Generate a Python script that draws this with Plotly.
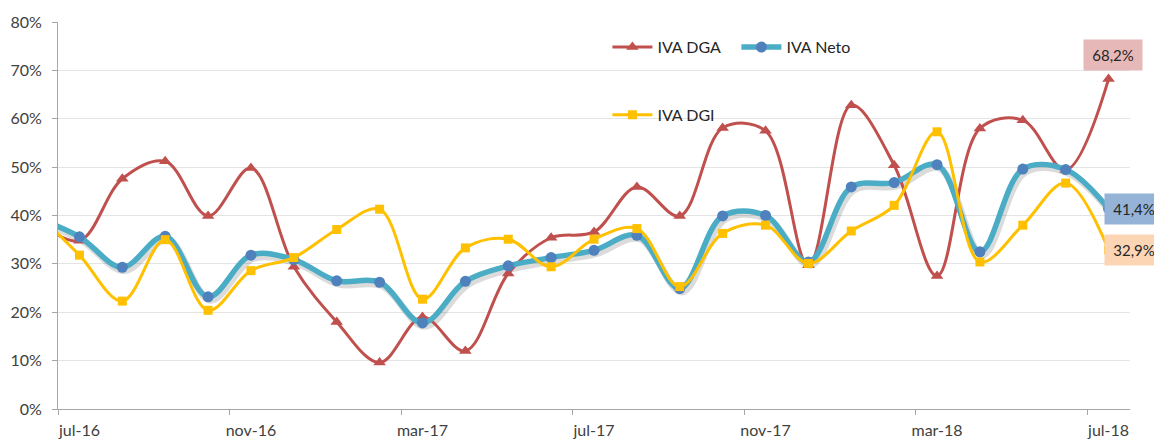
import plotly.graph_objects as go

months = ["jun-16", "jul-16", "ago-16", "sep-16", "oct-16", "nov-16", "dic-16",
          "ene-17", "feb-17", "mar-17", "abr-17", "may-17", "jun-17", "jul-17",
          "ago-17", "sep-17", "oct-17", "nov-17", "dic-17", "ene-18", "feb-18",
          "mar-18", "abr-18", "may-18", "jun-18", "jul-18"]

iva_dga = [39.0, 34.8, 47.6, 51.2, 39.9, 49.8, 29.4, 18.0, 9.6, 19.0, 12.0, 28.0,
           35.4, 36.6, 45.9, 39.9, 58.1, 57.5, 29.7, 62.8, 50.4, 27.5, 58.0, 59.7,
           49.4, 68.2]
iva_neto = [39.5, 35.6, 29.3, 35.7, 23.2, 31.8, 30.9, 26.5, 26.2, 17.8, 26.4, 29.6,
            31.3, 32.8, 35.9, 24.9, 39.9, 40.0, 30.4, 45.9, 46.8, 50.5, 32.5, 49.6,
            49.5, 41.4]
iva_dgi = [40.5, 31.8, 22.3, 35.0, 20.4, 28.6, 31.3, 37.1, 41.3, 22.7, 33.3, 35.1,
           29.4, 35.1, 37.3, 25.3, 36.3, 38.0, 30.1, 36.8, 42.1, 57.3, 30.4, 38.0,
           46.7, 32.9]

last_labels = ["68,2%", "41,4%", "32,9%"]

FONT = "Lato, 'Open Sans', sans-serif"
X_RANGE = [0.5, len(months) - 0.5]
Y_RANGE = [0, 80]

fig = go.Figure()

# soft shadow under the IVA Neto line (drawn on hidden, slightly offset axes)
fig.add_trace(go.Scatter(
    x=months, y=iva_neto, mode="lines", showlegend=False, hoverinfo="skip",
    line=dict(color="rgba(0,0,0,0.14)", width=7, shape="spline", smoothing=1),
    xaxis="x", yaxis="y"))

fig.add_trace(go.Scatter(
    x=months, y=iva_dga, name="IVA DGA", mode="lines+markers",
    line=dict(color="#C0504D", width=3, shape="spline", smoothing=1),
    marker=dict(symbol="triangle-up", size=11, color="#C0504D"),
    legend="legend", xaxis="x2", yaxis="y2"))
fig.add_trace(go.Scatter(
    x=months, y=iva_neto, name="IVA Neto", mode="lines+markers",
    line=dict(color="#4BACC6", width=5.5, shape="spline", smoothing=1),
    marker=dict(symbol="circle", size=11, color="#4F81BD"),
    legend="legend", xaxis="x2", yaxis="y2"))
fig.add_trace(go.Scatter(
    x=months, y=iva_dgi, name="IVA DGI", mode="lines+markers",
    line=dict(color="#FFC000", width=3, shape="spline", smoothing=1),
    marker=dict(symbol="square", size=9, color="#FFC000"),
    legend="legend2", xaxis="x2", yaxis="y2"))

box_styles = [("#E6B9B8", iva_dga[-1], 4, 24),
              ("#95B3D7", iva_neto[-1], 25, 0),
              ("#FCD5B5", iva_dgi[-1], 25, 0)]
for text, (bg, yv, xs, ys) in zip(last_labels, box_styles):
    fig.add_annotation(x=months[-1], y=yv, xref="x2", yref="y2", text=text,
                       showarrow=False, xshift=xs, yshift=ys,
                       bgcolor=bg, width=52, height=24, borderpad=3,
                       font=dict(family=FONT, size=15, color="#262626"))

fig.update_layout(
    width=1154, height=432,
    margin=dict(l=50, r=32, t=14, b=31, autoexpand=False),
    paper_bgcolor="white", plot_bgcolor="white",
    font=dict(family=FONT, size=16, color="#404040"),
    legend=dict(orientation="h", x=0.5125, y=0.935, xanchor="left", yanchor="middle",
                bgcolor="rgba(0,0,0,0)", font=dict(family=FONT, size=16, color="#262626"),
                entrywidth=74, itemwidth=40),
    legend2=dict(orientation="h", x=0.5125, y=0.76, xanchor="left", yanchor="middle",
                 bgcolor="rgba(0,0,0,0)", font=dict(family=FONT, size=16, color="#262626"),
                 itemwidth=40),
    showlegend=True,
    xaxis=dict(type="category", categoryorder="array", categoryarray=months,
               range=[X_RANGE[0] - 0.05, X_RANGE[1] - 0.05], visible=False,
               automargin=False),
    yaxis=dict(range=[Y_RANGE[0] + 0.7, Y_RANGE[1] + 0.7], visible=False,
               automargin=False),
    xaxis2=dict(
        type="category", categoryorder="array", categoryarray=months,
        overlaying="x", anchor="y2",
        range=X_RANGE,
        tick0=1, dtick=4, tickson="boundaries", tickangle=0, automargin=False,
        ticks="outside", ticklen=5, tickcolor="#A6A6A6", ticklabelstandoff=7,
        showline=True, linecolor="#A6A6A6", linewidth=1,
        showgrid=False, zeroline=False,
        tickfont=dict(family=FONT, size=16, color="#404040")),
    yaxis2=dict(
        overlaying="y", anchor="x2", side="left",
        range=Y_RANGE, dtick=10, ticksuffix="%", automargin=False,
        ticks="outside", ticklen=5, tickcolor="#A6A6A6", ticklabelstandoff=7,
        showline=True, linecolor="#A6A6A6", linewidth=1,
        showgrid=True, gridcolor="#E4E4E4", gridwidth=1, zeroline=False,
        tickfont=dict(family=FONT, size=16, color="#404040")),
)

fig.write_html("out.html")
